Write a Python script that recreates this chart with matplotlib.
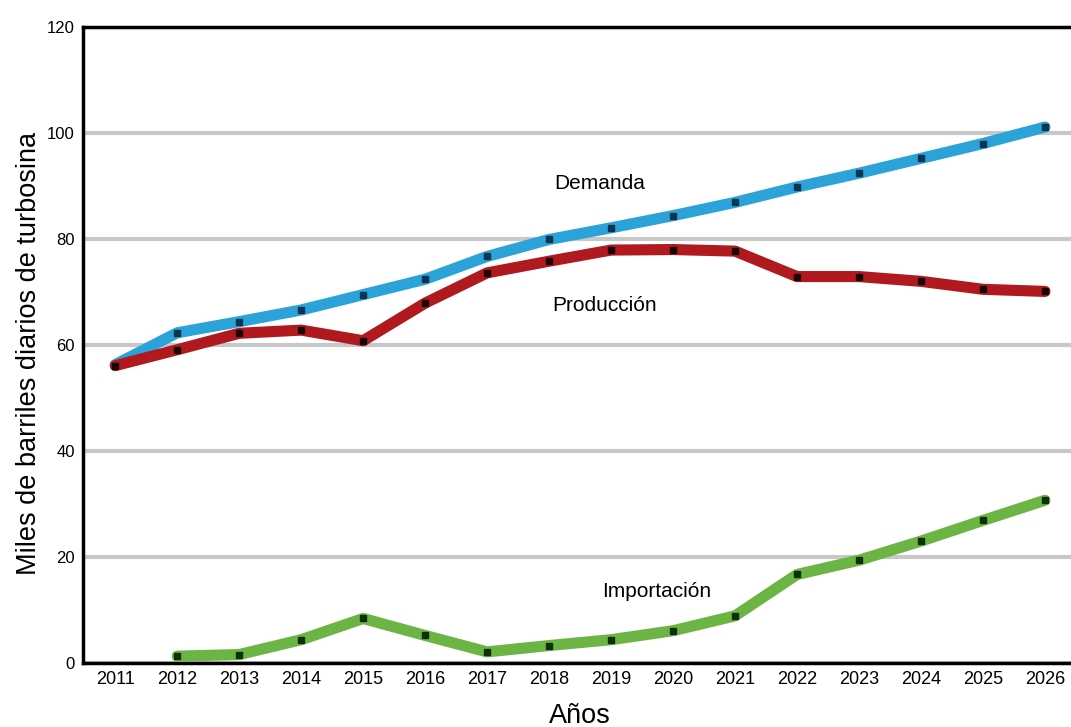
import matplotlib.pyplot as plt

plt.rcParams['font.family'] = ['Liberation Sans', 'DejaVu Sans']

years = list(range(2011, 2027))
demanda = [56.3, 62.3, 64.4, 66.6, 69.5, 72.4, 76.7, 79.9, 82.1, 84.4,
           86.9, 89.8, 92.4, 95.2, 98.0, 101.1]
produccion = [56.1, 59.1, 62.2, 62.8, 60.8, 67.9, 73.6, 75.8, 77.9, 78.0,
              77.7, 72.9, 72.9, 72.0, 70.5, 70.1]
import_years = years[1:]
importacion = [1.3, 1.6, 4.4, 8.4, 5.2, 2.1, 3.3, 4.4, 6.1, 8.9,
               16.7, 19.4, 23.0, 26.9, 30.7]
y_ticks = [0, 20, 40, 60, 80, 100, 120]

fig = plt.figure(figsize=(10.71, 7.27), dpi=100)
ax = fig.add_axes([0.0775, 0.088, 0.9225, 0.875])

# series: thick coloured line with small dark square markers
ax.plot(years, demanda, color='#2ba3d9', lw=8, solid_capstyle='round',
        marker='s', ms=5, mfc='#0d3550', mec='#0d3550', zorder=3)
ax.plot(years, produccion, color='#b01a1e', lw=8, solid_capstyle='round',
        marker='s', ms=5, mfc='#1a0505', mec='#1a0505', zorder=4)
ax.plot(import_years, importacion, color='#6cb545', lw=8, solid_capstyle='round',
        marker='s', ms=5, mfc='#0f2e0a', mec='#0f2e0a', zorder=3)

ax.text(2018.82, 90.5, 'Demanda', fontsize=15, ha='center', va='center')
ax.text(2018.9, 67.4, 'Producción', fontsize=15, ha='center', va='center')
ax.text(2019.74, 13.4, 'Importación', fontsize=15, ha='center', va='center')

ax.set_xlim(2010.48, 2026.42)
ax.set_ylim(0, 120)
ax.set_xticks(years)
ax.set_xticklabels([str(y) for y in years], fontsize=13)
ax.set_yticks(y_ticks)
ax.set_yticklabels([str(v) for v in y_ticks], fontsize=12)
ax.tick_params(length=0, pad=6)

ax.set_axisbelow(True)
ax.yaxis.grid(True, color='#c8c8c8', lw=3)
ax.xaxis.grid(False)

for side in ['left', 'bottom', 'top']:
    ax.spines[side].set_color('black')
    ax.spines[side].set_linewidth(2.5)
ax.spines['right'].set_visible(False)

ax.set_ylabel('Miles de barriles diarios de turbosina', fontsize=19.5)
ax.yaxis.set_label_coords(-0.042, 0.486)
ax.set_xlabel('Años', fontsize=19.5, va='center')
ax.xaxis.set_label_coords(0.503, -0.083)

plt.savefig('out.png', dpi=100)
